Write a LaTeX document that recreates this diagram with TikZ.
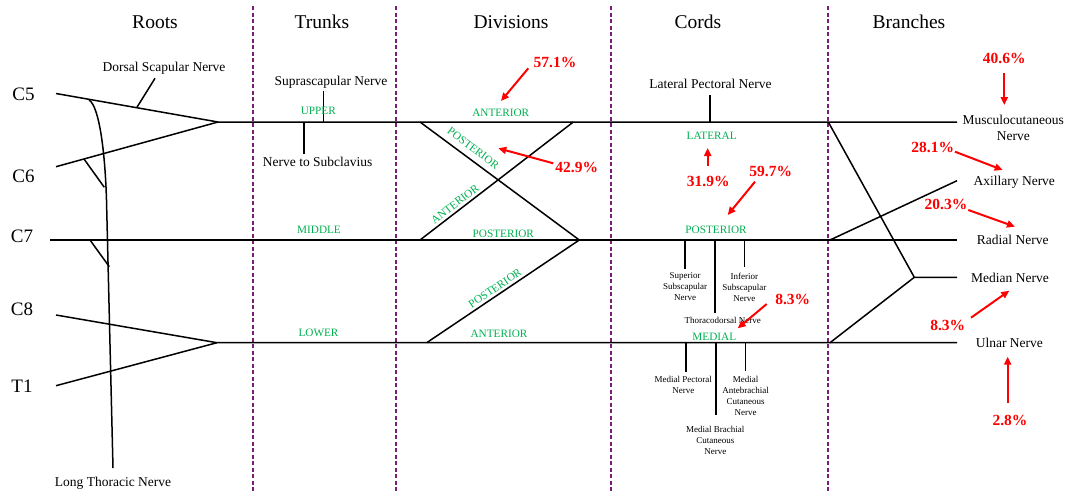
\documentclass[tikz,border=0pt]{standalone}
\usepackage{fontspec}
\setmainfont{Liberation Serif}
\usetikzlibrary{arrows.meta}
\definecolor{sepcol}{RGB}{120,30,120}
\definecolor{grn}{RGB}{0,176,80}
\begin{document}
\begin{tikzpicture}[x=1pt,y=-1pt,
  nerve/.style={line width=1.5pt, black},
  sepline/.style={sepcol, line width=1.2pt, dash pattern=on 4pt off 2.5pt},
  hdr/.style={font=\fontsize{19.5}{22}\selectfont, inner sep=0},
  root/.style={font=\fontsize{19}{22}\selectfont, inner sep=0},
  lbl/.style={font=\fontsize{13.5}{16}\selectfont, inner sep=0, align=center},
  sml/.style={font=\fontsize{9}{11}\selectfont, inner sep=0, align=center},
  div/.style={font=\fontsize{11.25}{13}\selectfont, text=grn, inner sep=0},
  pct/.style={font=\fontsize{15.5}{18}\selectfont\bfseries, text=red, inner sep=0},
  parr/.style={red, line width=2pt, -{Triangle[length=8pt,width=7pt]}},
]
\useasboundingbox (0,0) rectangle (1066,491);

% separators
\foreach \x/\n in {253/s1,396/s2,611/s3,828/s4}{
  \coordinate (\n t) at (\x,6);
  \coordinate (\n b) at (\x,491);
  \draw[sepline] (\n t) -- (\n b);
}

% headers
\node[hdr] (hRoots) at (155,22) {Roots};
\node[hdr] (hTrunks) at (322,22) {Trunks};
\node[hdr] (hDiv) at (511,22) {Divisions};
\node[hdr] (hCords) at (698,22) {Cords};
\node[hdr] (hBr) at (909,22) {Branches};

% roots labels
\node[root] (lC5) at (23.5,94.5) {C5};
\node[root] (lC6) at (23.5,176.5) {C6};
\node[root] (lC7) at (22,236.5) {C7};
\node[root] (lC8) at (22,309.5) {C8};
\node[root] (lT1) at (22,386.5) {T1};

% coordinates
\coordinate (c5s) at (56,93.5);
\coordinate (c6s) at (56,166.7);
\coordinate (c7s) at (50,240);
\coordinate (c8s) at (56,315);
\coordinate (t1s) at (56,385.7);
\coordinate (apexU) at (218,122);
\coordinate (apexL) at (217,342.7);
\coordinate (endU) at (957,122);
\coordinate (endM) at (957,240);
\coordinate (endL) at (957,342.7);

% roots & trunks
\draw[nerve] (c5s) -- (apexU) -- (endU);
\draw[nerve] (c6s) -- (apexU);
\draw[nerve] (c7s) -- (endM);
\draw[nerve] (c8s) -- (apexL) -- (endL);
\draw[nerve] (t1s) -- (apexL);

% long thoracic
\coordinate (lt1) at (89,100);
\coordinate (lt2) at (106.5,200);
\coordinate (lt3) at (113,468);
\draw[nerve] (lt1) .. controls (99,106) and (105,150) .. (lt2) -- (lt3);
\coordinate (b6a) at (84,159);
\coordinate (b6b) at (104.3,187.3);
\draw[nerve] (b6a) -- (b6b);
\coordinate (b7a) at (90,240);
\coordinate (b7b) at (109.3,266.7);
\draw[nerve] (b7a) -- (b7b);
\node[lbl] (ltn) at (113,483.5) {Long Thoracic Nerve};

% dorsal scapular
\coordinate (ds1) at (136.7,107.7);
\coordinate (ds2) at (155,78.3);
\draw[nerve] (ds1) -- (ds2);
\node[lbl] (dsn) at (164,68) {Dorsal Scapular Nerve};

% trunks
\coordinate (ss1) at (323.3,90.7);
\coordinate (ss2) at (323.3,122);
\draw[nerve] (ss1) -- (ss2);
\node[lbl] (ssn) at (331,82) {Suprascapular Nerve};
\coordinate (sc1) at (304,122);
\coordinate (sc2) at (304,154);
\draw[nerve] (sc1) -- (sc2);
\node[lbl] (scn) at (317.7,161.5) {Nerve to Subclavius};
\node[div] (tU) at (318.3,111) {UPPER};
\node[div] (tM) at (319,230) {MIDDLE};
\node[div] (tL) at (318.5,333) {LOWER};

% divisions
\coordinate (dA) at (420,122);
\coordinate (dB) at (579.3,240);
\coordinate (dC) at (420,240);
\coordinate (dD) at (573.3,122);
\coordinate (dE) at (426.7,342.7);
\draw[nerve] (dA) -- (dB) -- (dE);
\draw[nerve] (dC) -- (dD);
\node[div] (dv1) at (500.7,112.7) {ANTERIOR};
\node[div, rotate=-36.6] (dv2) at (473.3,148.3) {POSTERIOR};
\node[div, rotate=37.6] (dv3) at (455,204) {ANTERIOR};
\node[div] (dv4) at (503.3,234) {POSTERIOR};
\node[div, rotate=33.9] (dv5) at (495,288.3) {POSTERIOR};
\node[div] (dv6) at (499,334) {ANTERIOR};

\node[pct] (p571) at (555,62) {57.1\%};
\coordinate (a571s) at (528.3,68.3);
\coordinate (a571e) at (501,101);
\draw[parr] (a571s) -- (a571e);
\node[pct] (p429) at (576.7,167.3) {42.9\%};
\coordinate (a429s) at (553.3,163.3);
\coordinate (a429e) at (498.3,148.3);
\draw[parr] (a429s) -- (a429e);

% cords
\coordinate (lp1) at (710,95);
\coordinate (lp2) at (710,122);
\draw[nerve] (lp1) -- (lp2);
\node[lbl] (lpn) at (710.5,83.5) {Lateral Pectoral Nerve};
\node[div] (cL) at (711.7,135.7) {LATERAL};
\node[div] (cP) at (716,230) {POSTERIOR};
\node[div] (cM) at (714.3,336.7) {MEDIAL};

\coordinate (a319s) at (707.7,166);
\coordinate (a319e) at (707.7,148);
\draw[parr] (a319s) -- (a319e);
\node[pct] (p319) at (708.3,181) {31.9\%};
\node[pct] (p597) at (770.7,171) {59.7\%};
\coordinate (a597s) at (755,181.7);
\coordinate (a597e) at (727.7,215);
\draw[parr] (a597s) -- (a597e);

\coordinate (pn1a) at (685,240);
\coordinate (pn1b) at (685,269.3);
\coordinate (pn2a) at (715,240);
\coordinate (pn2b) at (715,313.3);
\coordinate (pn3a) at (744.3,240);
\coordinate (pn3b) at (744.3,267.3);
\draw[nerve] (pn1a) -- (pn1b);
\draw[nerve] (pn2a) -- (pn2b);
\draw[nerve] (pn3a) -- (pn3b);
\node[sml] (ssub) at (685,287) {Superior\\Subscapular\\Nerve};
\node[sml] (isub) at (744.3,287) {Inferior\\Subscapular\\Nerve};
\node[sml] (thd) at (722.7,320) {Thoracodorsal Nerve};

\node[pct] (p83a) at (792.7,299) {8.3\%};
\coordinate (a83as) at (766.7,304);
\coordinate (a83ae) at (737.7,328.3);
\draw[parr] (a83as) -- (a83ae);

\coordinate (mn1a) at (686,342.7);
\coordinate (mn1b) at (686,371.7);
\coordinate (mn2a) at (716,342.7);
\coordinate (mn2b) at (716,415);
\coordinate (mn3a) at (745.3,342.7);
\coordinate (mn3b) at (745.3,370.7);
\draw[nerve] (mn1a) -- (mn1b);
\draw[nerve] (mn2a) -- (mn2b);
\draw[nerve] (mn3a) -- (mn3b);
\node[sml] (mpn) at (683.3,384.5) {Medial Pectoral\\Nerve};
\node[sml] (mabc) at (745.7,395.5) {Medial\\Antebrachial\\Cutaneous\\Nerve};
\node[sml] (mbc) at (715.3,440) {Medial Brachial\\Cutaneous\\Nerve};

% branches
\coordinate (bA) at (828.3,122);
\coordinate (bMed) at (914.3,277.3);
\coordinate (bMedE) at (957,277.3);
\coordinate (bL) at (830,342.7);
\coordinate (bP) at (830,240);
\coordinate (bAx) at (957,180.7);
\draw[nerve] (bA) -- (bMed) -- (bMedE);
\draw[nerve] (bL) -- (bMed);
\draw[nerve] (bP) -- (bAx);

\node[lbl] (mcn) at (1013.3,128) {Musculocutaneous\\Nerve};
\node[lbl] (axn) at (1014.3,182.3) {Axillary Nerve};
\node[lbl] (rn) at (1012.7,239.5) {Radial Nerve};
\node[lbl] (men) at (1010,277.5) {Median Nerve};
\node[lbl] (un) at (1009.3,343) {Ulnar Nerve};

\node[pct] (p406) at (1004.3,58.3) {40.6\%};
\coordinate (a406s) at (1004.3,73.3);
\coordinate (a406e) at (1004.3,105);
\draw[parr] (a406s) -- (a406e);
\node[pct] (p281) at (932.7,147.3) {28.1\%};
\coordinate (a281s) at (955,151.7);
\coordinate (a281e) at (1002.7,170);
\draw[parr] (a281s) -- (a281e);
\node[pct] (p203) at (946,204) {20.3\%};
\coordinate (a203s) at (968.3,210);
\coordinate (a203e) at (1015,226.7);
\draw[parr] (a203s) -- (a203e);
\node[pct] (p83b) at (947.7,325) {8.3\%};
\coordinate (a83bs) at (971,317.7);
\coordinate (a83be) at (1009.3,290.7);
\draw[parr] (a83bs) -- (a83be);
\node[pct] (p28) at (1010,420.7) {2.8\%};
\coordinate (a28s) at (1007.7,402.7);
\coordinate (a28e) at (1007.7,356.7);
\draw[parr] (a28s) -- (a28e);
\end{tikzpicture}
\end{document}
